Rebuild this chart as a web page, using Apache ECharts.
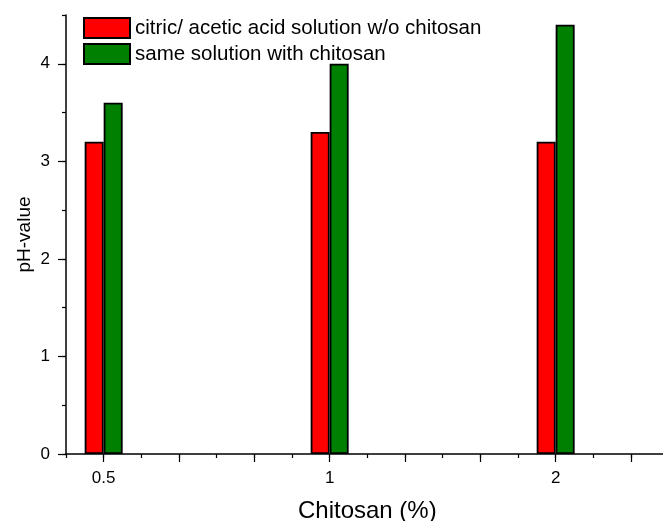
<!DOCTYPE html>
<html>
<head>
<meta charset="utf-8">
<script src="https://cdn.jsdelivr.net/npm/echarts@6/dist/echarts.min.js"></script>
<style>html,body{margin:0;padding:0;background:#fff}#c{width:663px;height:521px}</style>
</head>
<body>
<div id="c"></div>
<script>
// Data
const categories = ['0.5', '1', '2'];          // chitosan %
const positions = [1, 4, 7];                    // x positions of the groups on the axis
const withoutChitosan = [3.2, 3.3, 3.2];
const withChitosan = [3.6, 4.0, 4.4];
const seriesNames = ['citric/ acetic acid solution w/o chitosan', 'same solution with chitosan'];

const FONT = 'Liberation Sans, Arial, sans-serif';
const unitX = 75.33;
const axisLeft = 66;
const x0Right = -(0.075 * unitX);

const chart = echarts.init(document.getElementById('c'), null, {renderer: 'canvas'});
const labelMap = {};
positions.forEach((p, i) => labelMap[p] = categories[i]);

chart.setOption({
  animation: false,
  backgroundColor: '#fff',
  textStyle: {fontFamily: FONT, color: '#000'},
  legend: {
    orient: 'vertical', left: 83, top: 17, padding: 0, itemWidth: 46, itemHeight: 20, itemGap: 4,
    icon: 'rect',
    textStyle: {fontFamily: FONT, fontSize: 20.5, color: '#000'},
    data: seriesNames
  },
  grid: [
    {left: axisLeft, right: x0Right, top: 15, bottom: 67, outerBoundsMode: 'none', containLabel: false},
    {left: axisLeft + 0.5 * unitX, right: 663 - (axisLeft + 0.5 * unitX + 7 * unitX), top: 15, bottom: 67, outerBoundsMode: 'none', containLabel: false},
    {left: axisLeft, right: 0, top: 454 - 4 * 97.55, bottom: 67, outerBoundsMode: 'none', containLabel: false}
  ],
  xAxis: [
    {gridIndex: 0, type: 'value', min: 0.5, max: 8.5, interval: 0.5,
     name: 'Chitosan (%)', nameLocation: 'middle', nameGap: 45,
     nameTextStyle: {fontFamily: FONT, fontSize: 24, color: '#000'},
     axisLine: {show: true, lineStyle: {color: '#000', width: 1.5}},
     axisTick: {show: true, inside: false, length: 4, lineStyle: {color: '#000', width: 1.2}},
     axisLabel: {show: false}, splitLine: {show: false}},
    {gridIndex: 1, type: 'value', min: 1, max: 8, interval: 1,
     axisLine: {show: false},
     axisTick: {show: true, inside: false, length: 8, lineStyle: {color: '#000', width: 1.2}},
     axisLabel: {show: true, margin: 16, fontFamily: FONT, fontSize: 17, color: '#000',
       formatter: v => labelMap[v] !== undefined ? labelMap[v] : ''},
     splitLine: {show: false}},
    {gridIndex: 2, type: 'value', min: 0, max: 1, show: false}
  ],
  yAxis: [
    {gridIndex: 0, type: 'value', min: 0, max: 4.5, interval: 0.5,
     name: 'pH-value', nameLocation: 'middle', nameGap: 32,
     nameTextStyle: {fontFamily: FONT, fontSize: 19, color: '#000'},
     axisLine: {show: true, lineStyle: {color: '#000', width: 1.5}},
     axisTick: {show: true, inside: false, length: 4, lineStyle: {color: '#000', width: 1.2}},
     axisLabel: {show: false}, splitLine: {show: false}},
    {gridIndex: 1, type: 'value', min: 0, max: 1, show: false},
    {gridIndex: 2, type: 'value', min: 0, max: 4, interval: 1,
     axisLine: {show: false},
     axisTick: {show: true, inside: false, length: 8, lineStyle: {color: '#000', width: 1.2}},
     axisLabel: {show: true, margin: 16, fontFamily: FONT, fontSize: 17, color: '#000'},
     splitLine: {show: false}}
  ],
  series: [
    {name: seriesNames[0], type: 'bar', xAxisIndex: 0, yAxisIndex: 0,
     barWidth: 19, barGap: '0%',
     itemStyle: {color: '#ff0000', borderColor: '#000', borderWidth: 1.8},
     data: positions.map((p, i) => [p, withoutChitosan[i]])},
    {name: seriesNames[1], type: 'bar', xAxisIndex: 0, yAxisIndex: 0,
     barWidth: 19, barGap: '0%',
     itemStyle: {color: '#008000', borderColor: '#000', borderWidth: 1.8},
     data: positions.map((p, i) => [p, withChitosan[i]])}
  ]
});
</script>
</body>
</html>
